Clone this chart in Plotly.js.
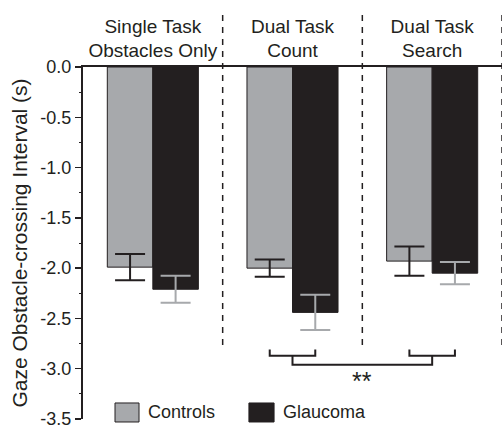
<!DOCTYPE html>
<html>
<head>
<meta charset="utf-8">
<script src="https://cdn.plot.ly/plotly-3.0.1.min.js"></script>
<style>html,body{margin:0;padding:0;background:#fff;}#chart{width:504px;height:429px;}</style>
</head>
<body>
<div id="chart"></div>
<script>
const categories = ['Single Task<br>Obstacles Only', 'Dual Task<br>Count', 'Dual Task<br>Search'];
const controls = [-1.99, -2.00, -1.93];
const controlsErr = [0.13, 0.085, 0.145];
const glaucoma = [-2.21, -2.44, -2.05];
const glaucomaErr = [0.135, 0.175, 0.11];
const seriesNames = ['Controls', 'Glaucoma'];
const yTickVals = [0, -0.5, -1, -1.5, -2, -2.5, -3, -3.5];
const yTickText = ['0.0', '-0.5', '-1.0', '-1.5', '-2.0', '-2.5', '-3.0', '-3.5'];
const sigLabel = '**';

const GRAY = '#a7a9ac';
const DARK = '#231f20';
const FONT = 'Liberation Sans, Arial, Helvetica, sans-serif';

const traces = [
  {
    type: 'bar', name: seriesNames[0], x: categories, y: controls,
    marker: {color: GRAY, line: {color: DARK, width: 1}},
    error_y: {type: 'data', array: controlsErr, visible: true, color: DARK, thickness: 2, width: 15}
  },
  {
    type: 'bar', name: seriesNames[1], x: categories, y: glaucoma,
    marker: {color: DARK, line: {color: DARK, width: 1}},
    error_y: {type: 'data', array: glaucomaErr, visible: true, color: GRAY, thickness: 2, width: 15}
  }
];

const bargap = 0.348;
const half = (1 - bargap) / 4;

const shapes = [];
[0.5, 1.5, 2.5].forEach(xv => {
  shapes.push({type: 'line', xref: 'x', yref: 'paper', x0: xv, x1: xv, y0: 0.21, y1: 1.153,
    line: {color: DARK, width: 1.5, dash: '6px,6px'}});
});
const yTop = -2.81, yMid = -2.87, yLow = -2.96;
[1, 2].forEach(g => {
  shapes.push({type: 'path', xref: 'x', yref: 'y',
    path: `M ${g - half} ${yTop} L ${g - half} ${yMid} L ${g + half} ${yMid} L ${g + half} ${yTop}`,
    line: {color: DARK, width: 2}});
});
shapes.push({type: 'path', xref: 'x', yref: 'y',
  path: `M 1 ${yMid} L 1 ${yLow} L 2 ${yLow} L 2 ${yMid}`,
  line: {color: DARK, width: 2}});
shapes.push({type: 'rect', xref: 'paper', yref: 'paper', x0: 0.0764, x1: 0.1337, y0: -0.0085, y1: 0.0455,
  fillcolor: GRAY, line: {color: DARK, width: 1}});
shapes.push({type: 'rect', xref: 'paper', yref: 'paper', x0: 0.396, x1: 0.456, y0: -0.0085, y1: 0.0455,
  fillcolor: DARK, line: {color: DARK, width: 1}});

const annotations = [
  {xref: 'x', yref: 'y', x: 1.5, y: -3.12, text: sigLabel, showarrow: false,
    font: {family: FONT, size: 25, color: DARK}},
  {xref: 'paper', yref: 'paper', x: 0.150, y: 0.019, xanchor: 'left', yanchor: 'middle',
    text: seriesNames[0], showarrow: false, font: {family: FONT, size: 18, color: DARK}},
  {xref: 'paper', yref: 'paper', x: 0.4726, y: 0.019, xanchor: 'left', yanchor: 'middle',
    text: seriesNames[1], showarrow: false, font: {family: FONT, size: 18, color: DARK}}
];

const layout = {
  width: 504, height: 429,
  margin: {l: 83, r: 2, t: 67, b: 10, pad: 0},
  paper_bgcolor: '#fff', plot_bgcolor: '#fff',
  font: {family: FONT, color: DARK},
  showlegend: false,
  barmode: 'group', bargap: bargap, bargroupgap: 0,
  xaxis: {
    side: 'top', showline: true, linecolor: DARK, linewidth: 2,
    ticks: '', showgrid: false, zeroline: false, range: [-0.5, 2.5],
    tickfont: {family: FONT, size: 19, color: DARK}, fixedrange: true
  },
  yaxis: {
    range: [-3.5, 0], showline: true, linecolor: DARK, linewidth: 2,
    showgrid: false, zeroline: false,
    ticks: 'outside', ticklen: 6, tickwidth: 1.5, tickcolor: DARK,
    tickvals: yTickVals, ticktext: yTickText, ticklabeloverflow: 'allow',
    minor: {ticks: 'outside', ticklen: 2, dtick: 0.25, tickcolor: DARK, tickwidth: 1},
    tickfont: {family: FONT, size: 18, color: DARK},
    title: {text: 'Gaze Obstacle-crossing Interval (s)', font: {family: FONT, size: 21, color: DARK}, standoff: 7}
  },
  shapes: shapes,
  annotations: annotations
};

Plotly.newPlot('chart', traces, layout, {displayModeBar: false, staticPlot: true});
</script>
</body>
</html>
